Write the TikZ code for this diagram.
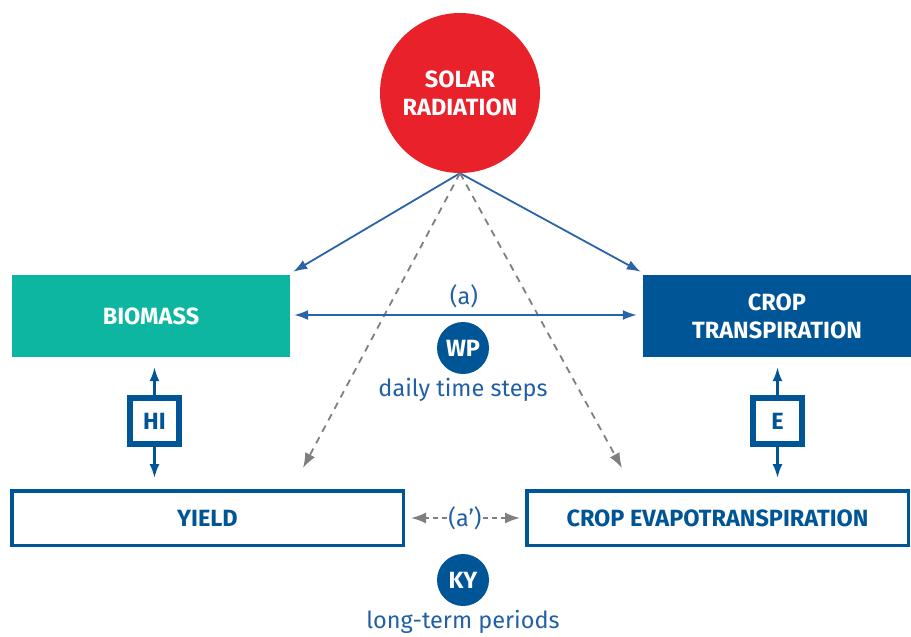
\documentclass[tikz,border=0pt]{standalone}
\usepackage{fontspec}
\setmainfont{Fira Sans}
\usetikzlibrary{arrows.meta,calc}
\definecolor{sunred}{HTML}{E8212B}
\definecolor{teal}{HTML}{0DB6A0}
\definecolor{dblue}{HTML}{005596}
\definecolor{tblue}{HTML}{2160A6}
\definecolor{lblue}{HTML}{2A64A8}
\definecolor{dgray}{HTML}{7F7F80}
\tikzset{
  bigfont/.style={font=\fontsize{23.5}{28}\selectfont\bfseries},
  txtfont/.style={font=\fontsize{23.5}{26}\selectfont},
  filledbox/.style={rectangle, inner sep=0pt, align=center, text=white, bigfont},
  framebox/.style={rectangle, draw=dblue, line width=3.5pt, fill=white, inner sep=0pt, text=dblue, bigfont},
  coefbox/.style={rectangle, draw=dblue, line width=5.5pt, fill=white, inner sep=0pt, minimum width=49pt, minimum height=46pt, text=dblue, bigfont},
  coefdot/.style={circle, fill=dblue, inner sep=0pt, minimum size=52pt, text=white, bigfont},
  solidarrow/.style={draw=lblue, line width=1.8pt, -{Latex[length=14pt,width=10pt]}},
  dblarrow/.style={draw=lblue, line width=1.8pt, {Latex[length=14pt,width=10pt]}-{Latex[length=14pt,width=10pt]}},
  vararrow/.style={draw=dblue, line width=2.2pt, -{Latex[length=14pt,width=10pt]}},
  dasharrow/.style={draw=dgray, line width=1.8pt, dash pattern=on 7pt off 6pt, -{Latex[length=15pt,width=11pt]}},
}
\begin{document}
\begin{tikzpicture}[x=1pt,y=-1pt]
\useasboundingbox (0,0) rectangle (911,637);
% nodes
\node[circle, fill=sunred, minimum size=160pt, inner sep=0pt, align=center, text=white, bigfont] (sun) at (460,93) {SOLAR\\RADIATION};
\node[filledbox, fill=teal, minimum width=278pt, minimum height=82pt] (bio) at (151,316) {BIOMASS};
\node[filledbox, fill=dblue, minimum width=268pt, minimum height=82pt] (trans) at (777,316) {CROP\\TRANSPIRATION};
\node[framebox, minimum width=391.5pt, minimum height=54.5pt] (yield) at (207.5,518) {YIELD};
\node[framebox, minimum width=381.5pt, minimum height=54.5pt] (evap) at (717.5,518) {CROP EVAPOTRANSPIRATION};
\node[coefbox] (hi) at (154.5,421) {HI};
\node[coefbox] (e) at (777.5,421) {E};
\node[coefdot] (wp) at (463,348) {WP};
\node[coefdot] (ky) at (463,580) {KY};
\node[txtfont, text=tblue] (a) at (464,296) {(a)};
\node[txtfont, text=tblue] (daily) at (463,390) {daily time steps};
\node[txtfont, text=tblue] (long) at (463,622) {long-term periods};
\node[txtfont, text=tblue, inner sep=1pt] (ap) at (465,518) {(a')};
% coordinates
\coordinate (src) at (sun.south);
\coordinate (bioin) at ($(bio.north east)+(3,-3)$);
\coordinate (transin) at ($(trans.north west)+(-2,-3)$);
\coordinate (yieldin) at (303,468);
\coordinate (evapin) at (622,468);
% connectors
\draw[solidarrow] (src) -- (bioin);
\draw[solidarrow] (src) -- (transin);
\draw[dasharrow] (src) -- (yieldin);
\draw[dasharrow] (src) -- (evapin);
\draw[dblarrow] ($(bio.east)+(4,-1)$) -- ($(trans.west)+(-6,-1)$);
\draw[vararrow] (hi.north) -- ($(bio.south)+(3.5,10)$);
\draw[vararrow] (hi.south) -- ($(yield.north)+(-53,-11)$);
\draw[vararrow] (e.north) -- ($(trans.south)+(0.5,10)$);
\draw[vararrow] (e.south) -- ($(evap.north)+(60,-11)$);
\draw[dasharrow, dash pattern=on 5pt off 4pt] (ap.west) -- ($(yield.east)+(6,0)$);
\draw[dasharrow, dash pattern=on 5pt off 4pt] (ap.east) -- ($(evap.west)+(-5,0)$);
\end{tikzpicture}
\end{document}
